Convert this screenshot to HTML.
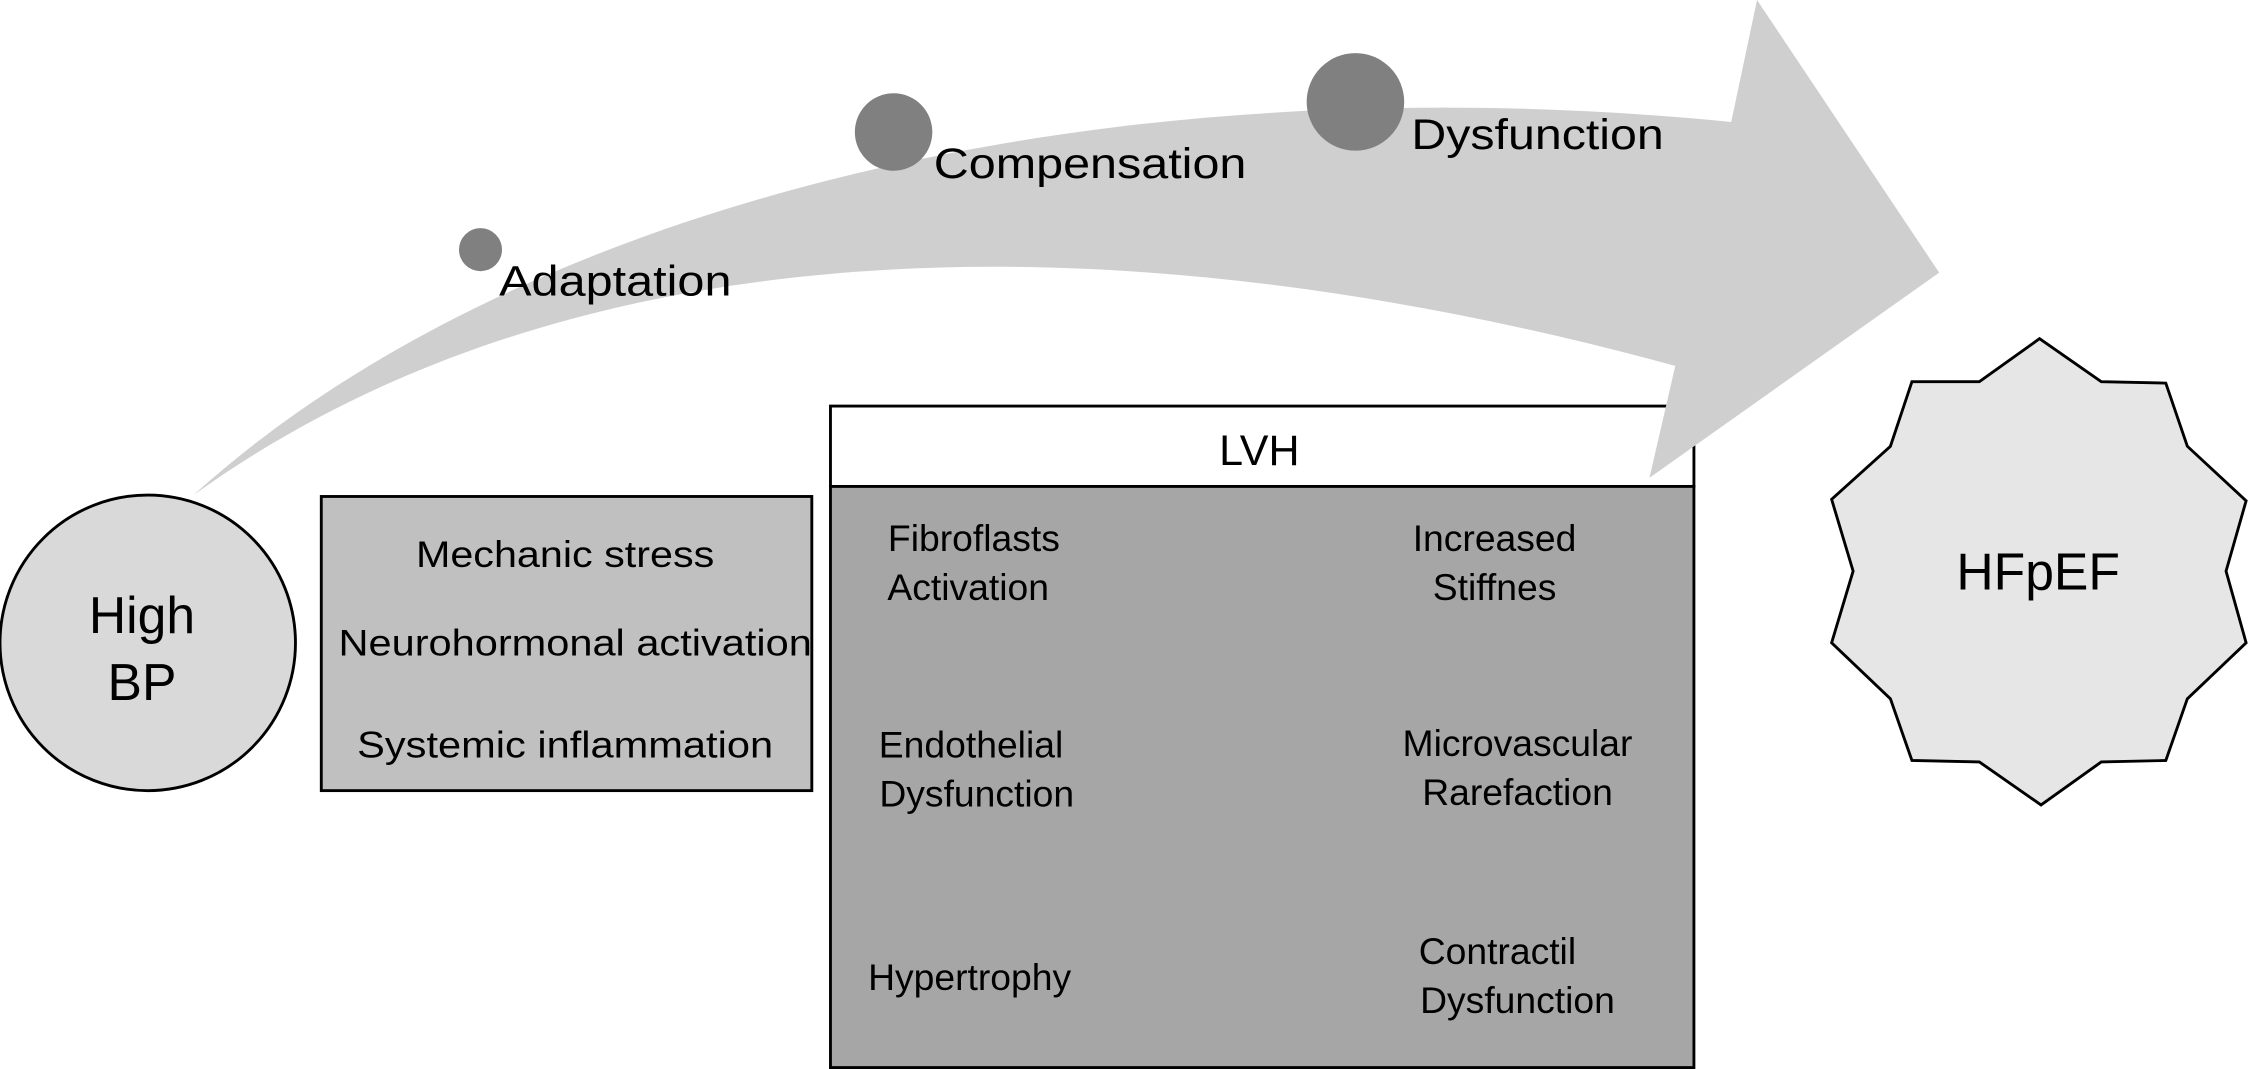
<!DOCTYPE html>
<html><head><style>html,body{margin:0;padding:0;background:#fff}svg{display:block}</style></head>
<body>
<svg width="2249" height="1069" viewBox="0 0 1568 745" preserveAspectRatio="none" xmlns="http://www.w3.org/2000/svg" font-family="Liberation Sans, sans-serif">
<circle cx="103" cy="448" r="103" fill="#d9d9d9" stroke="#000" stroke-width="2"/>
<text x="99" y="441" font-size="36" text-anchor="middle">High</text>
<text x="99" y="488" font-size="36" text-anchor="middle">BP</text>
<rect x="224" y="346" width="342" height="205" fill="#c0c0c0" stroke="#000" stroke-width="2"/>
<g font-size="26" text-anchor="middle">
<text x="394" y="395" textLength="208" lengthAdjust="spacingAndGlyphs">Mechanic stress</text>
<text x="401" y="457" textLength="330" lengthAdjust="spacingAndGlyphs">Neurohormonal activation</text>
<text x="394" y="528" textLength="290" lengthAdjust="spacingAndGlyphs">Systemic inflammation</text>
</g>
<rect x="579" y="283" width="602" height="56" fill="#fff" stroke="#000" stroke-width="2"/>
<text x="878" y="324" font-size="30" text-anchor="middle">LVH</text>
<rect x="579" y="339" width="602" height="405" fill="#a6a6a6" stroke="#000" stroke-width="2"/>
<g font-size="26" text-anchor="middle">
<text x="679" y="384">Fibroflasts</text><text x="675" y="418">Activation</text>
<text x="677" y="528">Endothelial</text><text x="681" y="562">Dysfunction</text>
<text x="676" y="690">Hypertrophy</text>
<text x="1042" y="384">Increased</text><text x="1042" y="418">Stiffnes</text>
<text x="1058" y="527">Microvascular</text><text x="1058" y="561">Rarefaction</text>
<text x="1044" y="672">Contractil</text><text x="1058" y="706">Dysfunction</text>
</g>
<path d="M135,345 C350,150 750,40 1207,85 L1225,0 L1352,190 L1150,333 L1168,255 C820,160 420,140 135,345 Z" fill="#d0cfd0"/>
<circle cx="335" cy="174" r="15" fill="#808080"/>
<circle cx="623" cy="92" r="27" fill="#808080"/>
<circle cx="945" cy="71" r="34" fill="#808080"/>
<text x="348" y="206" font-size="30" textLength="162" lengthAdjust="spacingAndGlyphs">Adaptation</text>
<text x="651" y="124" font-size="30" textLength="218" lengthAdjust="spacingAndGlyphs">Compensation</text>
<text x="984" y="104" font-size="30" textLength="176" lengthAdjust="spacingAndGlyphs">Dysfunction</text>
<polygon points="1422,236 1465,266 1510,267 1525,311 1566,349 1552,398 1566,448 1525,487 1510,530 1465,531 1423,561 1380,531 1333,530 1318,487 1277,448 1292,398 1277,348 1318,311 1333,266 1380,266" fill="#e6e6e6" stroke="#000" stroke-width="2"/>
<text x="1421" y="411" font-size="36" text-anchor="middle">HFpEF</text>
</svg>
</body></html>
